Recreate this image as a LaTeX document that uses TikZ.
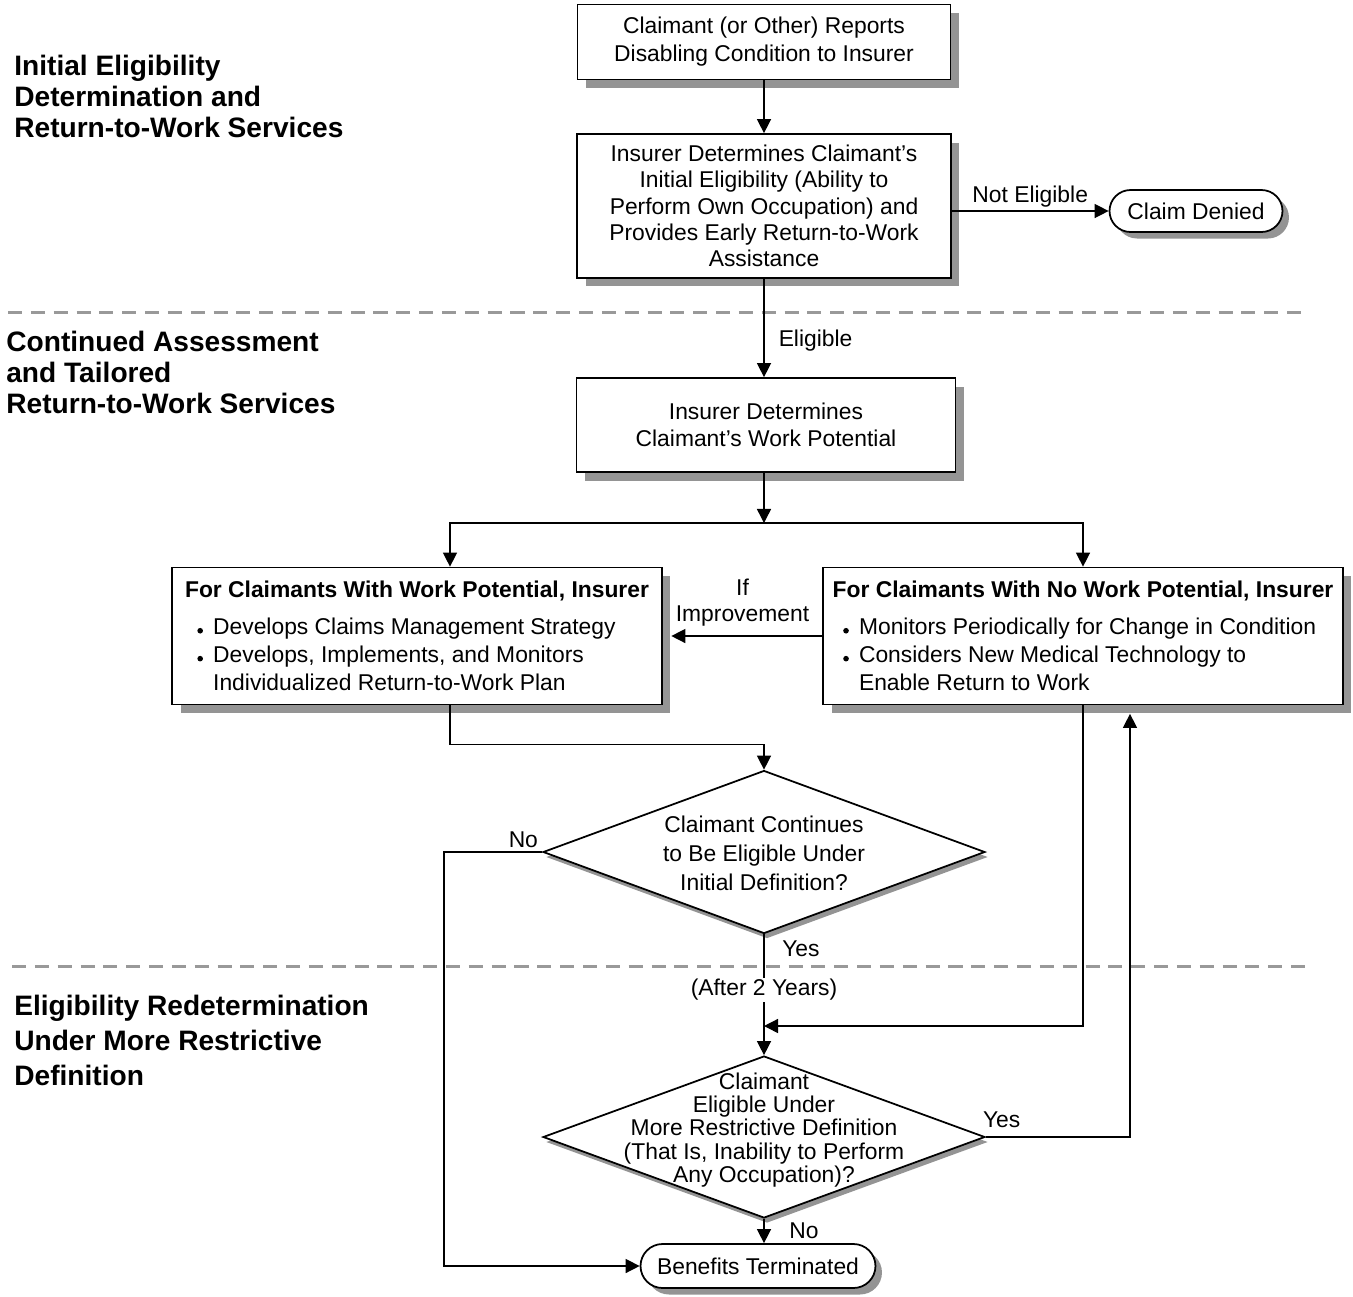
\documentclass[tikz,border=0pt]{standalone}
\usepackage{fontspec}
\setmainfont{Liberation Sans}
\usetikzlibrary{positioning,shapes.geometric,shapes.misc,shadows,arrows.meta}

\newcommand\bulletdot{\makebox[9pt][l]{\tikz[baseline=-2.2pt]\fill (0,0) circle (1.6pt);}}
\newcommand\decisiontext[2][-3pt]{\smash{\makebox[0pt]{\raisebox{#1}{\begin{tabular}{@{}c@{}}#2\end{tabular}}}}}

\tikzset{
  stepbox/.style={draw, line width=1pt, fill=white, align=center, inner sep=0pt,
    drop shadow={shadow xshift=0.17cm, shadow yshift=-0.17cm, fill=black!42, opacity=1}},
  terminal/.style={rounded rectangle, draw, line width=1pt, fill=white, inner sep=0pt,
    drop shadow={shadow xshift=0.13cm, shadow yshift=-0.13cm, fill=black!42, opacity=1}},
  decision/.style={diamond, draw, line width=1pt, fill=white, inner sep=0pt,
    minimum width=8.84cm, minimum height=3.26cm,
    drop shadow={shadow xshift=0.06cm, shadow yshift=-0.1cm, fill=black!42, opacity=1}},
  phase/.style={anchor=north west, align=left, inner sep=0pt, font=\fontsize{16}{17.6}\selectfont\bfseries},
  flow/.style={line width=0.8pt, -{Triangle[width=8pt,length=8pt]}},
  tag/.style={inner sep=2pt},
  divider/.style={draw=black!40, line width=1.7pt, dash pattern=on 8pt off 5pt}
}

\begin{document}
\begin{tikzpicture}[x=0.02cm, y=-0.02cm, font=\fontsize{13}{15}\selectfont]
  \useasboundingbox (0,0) rectangle (1353,1296);
  \draw[divider] (8,312) -- (1305,312);
  \draw[divider] (12,966) -- (1305,966);

  \node (initial)     at (14,55)    [phase] {Initial Eligibility\\Determination and\\Return-to-Work Services};
  \node (continued)   at (6,331)    [phase] {Continued Assessment\\and Tailored\\Return-to-Work Services};
  \node (redetermine) at (14,995)   [phase, font=\fontsize{16}{19.8}\selectfont\bfseries] {Eligibility Redetermination\\Under More Restrictive\\Definition};

  \node (report)      at (764,42)   [stepbox, minimum width=7.46cm, minimum height=1.5cm, font=\fontsize{13}{16.2}\selectfont] {\raisebox{-3pt}{\begin{tabular}{@{}c@{}}Claimant (or Other) Reports\\Disabling Condition to Insurer\end{tabular}}};
  \node (screen)      at (764,206)  [stepbox, minimum width=7.48cm, minimum height=2.88cm] {Insurer Determines Claimant’s\\Initial Eligibility (Ability to\\Perform Own Occupation) and\\Provides Early Return-to-Work\\Assistance};
  \node (denied)      at (1196,211) [terminal, minimum width=3.46cm, minimum height=0.84cm] {Claim Denied};
  \node (potential)   at (766,425)  [stepbox, minimum width=7.58cm, minimum height=1.88cm] {Insurer Determines\\Claimant’s Work Potential};
  \node (work)        at (417,636)  [stepbox, align=left, minimum width=9.8cm, minimum height=2.74cm, font=\fontsize{13}{15.9}\selectfont]
    {{\bfseries For Claimants With Work Potential, Insurer}\\[5pt]
     \hspace*{7pt}\bulletdot Develops Claims Management Strategy\\
     \hspace*{7pt}\bulletdot Develops, Implements, and Monitors\\
     \hspace*{16pt}Individualized Return-to-Work Plan};
  \node (nowork)      at (1083,636) [stepbox, align=left, minimum width=10.4cm, minimum height=2.74cm, font=\fontsize{13}{15.9}\selectfont]
    {{\bfseries For Claimants With No Work Potential, Insurer}\\[5pt]
     \hspace*{6pt}\bulletdot Monitors Periodically for Change in Condition\\
     \hspace*{6pt}\bulletdot Considers New Medical Technology to\\
     \hspace*{15pt}Enable Return to Work};
  \node (stillvalid)  at (764,852)  [decision, font=\fontsize{13}{16.4}\selectfont] {\decisiontext[-5pt]{Claimant Continues\\to Be Eligible Under\\Initial Definition?}};
  \node (anyocc)      at (764,1137) [decision, minimum height=3.24cm, font=\fontsize{13}{12.9}\selectfont] {\decisiontext[0.5pt]{Claimant\\Eligible Under\\More Restrictive Definition\\(That Is, Inability to Perform\\Any Occupation)?}};
  \node (terminated)  at (758,1266) [terminal, minimum width=4.7cm, minimum height=0.88cm] {Benefits Terminated};

  \coordinate (split)  at (764,523);
  \coordinate (rejoin) at (764,1026);

  \draw[flow] (report) -- (screen);
  \draw[flow] (denied.west -| screen.east) -- node[tag, above] {Not Eligible} (denied);
  \draw[flow] (screen) -- node[tag, pos=0.63, right=6pt] {Eligible} (screen.south |- potential.north);
  \draw[flow] (potential.south -| split) -- (split);
  \draw[flow] (split) -| ([xshift=0.66cm]work.north);
  \draw[flow] (split) -| (nowork.north);
  \draw[flow, shorten >=0.17cm] (nowork.west) -- node[tag, above=3pt, align=center] {If\\Improvement} (nowork.west -| work.east);
  \draw[flow] ([xshift=0.66cm]work.south) -- ++(0,39) -| (stillvalid.north);
  \draw[flow] (stillvalid.west) -- node[tag, at start, above left] {No} ++(-98,0) |- (terminated.west);
  \draw[flow] (stillvalid.south) -- node[tag, pos=0.12, right=8pt] {Yes}
                                    node[fill=white, pos=0.46, inner sep=1pt] {(After 2 Years)} (anyocc.north);
  \draw[flow] (nowork.south) |- (rejoin);
  \draw[flow, shorten >=0.17cm] (anyocc.east) -| node[tag, at start, above right, xshift=-4pt, yshift=3pt] {Yes} ([xshift=0.94cm]nowork.south);
  \draw[flow] (anyocc.south) -- node[tag, right=12pt] {No} (anyocc.south |- terminated.north);
\end{tikzpicture}
\end{document}
